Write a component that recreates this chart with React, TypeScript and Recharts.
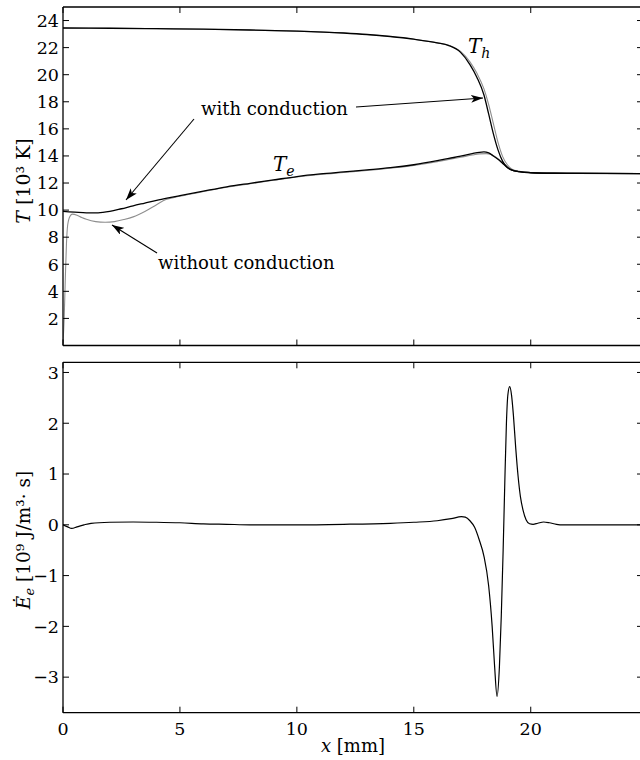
import { LineChart, Line, XAxis, YAxis } from 'recharts'

// axis ticks
const xTicks = [0, 5, 10, 15, 20]
const tTicks = [2, 4, 6, 8, 10, 12, 14, 16, 18, 20, 22, 24]
const eTicks = [-3, -2, -1, 0, 1, 2, 3]

// heavy-particle temperature T_h [10^3 K]
const thX = [0, 2, 4, 6, 8, 10, 12, 13, 14, 15, 16, 16.5, 17, 17.4, 17.7, 18, 18.2, 18.4, 18.6, 18.8, 19, 19.2, 19.5, 20, 21, 22, 24.8]
const thCond = [23.45, 23.43, 23.4, 23.36, 23.3, 23.22, 23.08, 22.97, 22.82, 22.62, 22.35, 22.15, 21.65, 20.75, 19.8, 18.5, 17.1, 15.65, 14.45, 13.6, 13.15, 12.95, 12.84, 12.76, 12.72, 12.71, 12.7]
const thNoCond = [23.45, 23.43, 23.4, 23.36, 23.3, 23.22, 23.08, 22.97, 22.82, 22.62, 22.35, 22.17, 21.72, 20.95, 20.1, 18.95, 17.8, 16.4, 15.0, 13.95, 13.35, 13.02, 12.86, 12.77, 12.72, 12.71, 12.7]

// electron temperature T_e [10^3 K], with conduction
const teCondX = [0, 0.5, 1, 1.5, 2, 2.5, 3, 3.5, 4, 4.5, 5, 6, 7, 8, 9, 10, 11, 12, 13, 14, 15, 16, 16.5, 17, 17.5, 17.8, 18, 18.2, 18.4, 18.6, 18.8, 19, 19.2, 19.5, 20, 21, 24.8]
const teCond = [9.9, 9.85, 9.8, 9.8, 9.9, 10.1, 10.32, 10.52, 10.72, 10.9, 11.07, 11.4, 11.72, 11.98, 12.23, 12.48, 12.67, 12.82, 12.97, 13.13, 13.35, 13.65, 13.82, 13.98, 14.17, 14.27, 14.3, 14.22, 14.0, 13.75, 13.45, 13.15, 12.95, 12.84, 12.77, 12.72, 12.7]

// electron temperature T_e [10^3 K], without conduction
const teNoCondX = [0, 0.05, 0.1, 0.15, 0.2, 0.3, 0.4, 0.6, 0.8, 1, 1.4, 1.8, 2.2, 2.6, 3, 3.5, 4, 4.4, 5, 6, 7, 8, 9, 10, 11, 12, 13, 14, 15, 16, 16.5, 17, 17.5, 17.8, 18.1, 18.3, 18.5, 18.7, 18.9, 19.1, 19.3, 19.6, 20, 21, 24.8]
const teNoCond = [0.15, 2, 5, 7.6, 8.9, 9.55, 9.7, 9.62, 9.45, 9.32, 9.15, 9.1, 9.15, 9.3, 9.5, 9.9, 10.4, 10.78, 11.02, 11.37, 11.69, 11.95, 12.2, 12.44, 12.63, 12.78, 12.93, 13.09, 13.3, 13.58, 13.74, 13.9, 14.07, 14.15, 14.17, 14.1, 13.92, 13.65, 13.35, 13.08, 12.93, 12.83, 12.77, 12.72, 12.7]

// electron energy source term [10^9 J/(m^3 s)]
const eX = [0, 0.2, 0.37, 0.6, 0.9, 1.2, 2, 3, 4, 5, 6, 7, 8, 10, 12, 14, 15, 16, 16.6, 17.04, 17.2, 17.4, 17.6, 17.8, 18, 18.2, 18.35, 18.45, 18.56, 18.66, 18.74, 18.82, 18.89, 18.96, 19.02, 19.1, 19.18, 19.26, 19.36, 19.46, 19.56, 19.67, 19.8, 19.95, 20.1, 20.3, 20.55, 20.8, 21.1, 21.4, 24.8]
const eDot = [0, -0.04, -0.07, -0.04, 0, 0.03, 0.05, 0.055, 0.05, 0.04, 0.02, 0.01, 0, 0, 0.01, 0.03, 0.05, 0.08, 0.12, 0.16, 0.15, 0.08, -0.05, -0.3, -0.62, -1.2, -2.0, -2.75, -3.38, -2.8, -1.8, -0.5, 0.82, 2.0, 2.55, 2.72, 2.55, 2.15, 1.5, 0.95, 0.55, 0.29, 0.1, 0.02, 0.01, 0.03, 0.055, 0.04, 0.01, 0, 0]

const zip = (xs: number[], ys: number[]) => xs.map((x, i) => ({ x, y: ys[i] }))

const FONT = '"DejaVu Serif", serif'
const X_DOMAIN: [number, number] = [0, 24.8]

type Side = 'left' | 'right' | 'top' | 'bottom'

// inward tick mark, label outside the box
function EdgeTick(props: any) {
  const { x, y, payload, side, label } = props as { x: number; y: number; payload: { value: number }; side: Side; label?: boolean }
  const len = 6
  const txt = payload.value < 0 ? `\u2212${Math.abs(payload.value)}` : `${payload.value}`
  let line = null
  let text = null
  if (side === 'left') {
    line = <line x1={x} y1={y} x2={x + len} y2={y} stroke="#000" strokeWidth={1} />
    if (label) text = <text x={x - 4} y={y} dy="0.36em" textAnchor="end" fontSize={17.5} fontFamily={FONT} fill="#000">{txt}</text>
  } else if (side === 'right') {
    line = <line x1={x - len} y1={y} x2={x} y2={y} stroke="#000" strokeWidth={1} />
  } else if (side === 'top') {
    line = <line x1={x} y1={y} x2={x} y2={y + len} stroke="#000" strokeWidth={1} />
  } else {
    line = <line x1={x} y1={y - len} x2={x} y2={y} stroke="#000" strokeWidth={1} />
    if (label) text = <text x={x} y={y + 22} textAnchor="middle" fontSize={17.5} fontFamily={FONT} fill="#000">{txt}</text>
  }
  return (
    <g>
      {line}
      {text}
    </g>
  )
}

const axisLine = { stroke: '#000', strokeWidth: 1.3 }

// box of four axes; the top and right ones only carry tick marks
function Frame({ yTicks, yDomain, bottomHeight, showX }: { yTicks: number[]; yDomain: [number, number]; bottomHeight: number; showX: boolean }) {
  return [
    <XAxis key="xb" xAxisId="b" type="number" dataKey="x" domain={X_DOMAIN} ticks={xTicks} interval={0}
      allowDataOverflow height={bottomHeight} axisLine={axisLine} tickLine={false} tickSize={0} tickMargin={0}
      tick={(p: any) => <EdgeTick {...p} side="bottom" label={showX} />} />,
    <XAxis key="xt" xAxisId="t" orientation="top" type="number" dataKey="x" domain={X_DOMAIN} ticks={xTicks} interval={0}
      allowDataOverflow height={1} axisLine={axisLine} tickLine={false} tickSize={0} tickMargin={0}
      tick={(p: any) => <EdgeTick {...p} side="top" />} />,
    <YAxis key="yl" yAxisId="l" type="number" domain={yDomain} ticks={yTicks} interval={0}
      allowDataOverflow width={63} axisLine={axisLine} tickLine={false} tickSize={0} tickMargin={0}
      tick={(p: any) => <EdgeTick {...p} side="left" label />} />,
    <YAxis key="yr" yAxisId="r" orientation="right" type="number" domain={yDomain} ticks={yTicks} interval={0}
      allowDataOverflow width={1} axisLine={axisLine} tickLine={false} tickSize={0} tickMargin={0}
      tick={(p: any) => <EdgeTick {...p} side="right" />} />,
  ]
}

const GRAY = '#8e8e8e'

function Arrow({ x1, y1, x2, y2 }: { x1: number; y1: number; x2: number; y2: number }) {
  return <line x1={x1} y1={y1} x2={x2} y2={y2} stroke="#000" strokeWidth={1.1} markerEnd="url(#head)" />
}

export default function App() {
  return (
    <div style={{ position: 'absolute', left: 0, top: 0, width: 640, height: 760, overflow: 'hidden', background: '#fff' }}>
      <div style={{ position: 'absolute', left: 0, top: 0 }}>
        <LineChart width={660} height={350} margin={{ top: 6, right: 16, bottom: 0, left: 0 }}>
          {Frame({ yTicks: tTicks, yDomain: [0, 25], bottomHeight: 4.5, showX: false })}
          <Line data={zip(thX, thNoCond)} xAxisId="b" yAxisId="l" dataKey="y" type="monotone" stroke={GRAY} strokeWidth={1.1} dot={false} isAnimationActive={false} />
          <Line data={zip(teNoCondX, teNoCond)} xAxisId="b" yAxisId="l" dataKey="y" type="monotone" stroke={GRAY} strokeWidth={1.1} dot={false} isAnimationActive={false} />
          <Line data={zip(thX, thCond)} xAxisId="b" yAxisId="l" dataKey="y" type="monotone" stroke="#000" strokeWidth={1.3} dot={false} isAnimationActive={false} />
          <Line data={zip(teCondX, teCond)} xAxisId="b" yAxisId="l" dataKey="y" type="monotone" stroke="#000" strokeWidth={1.3} dot={false} isAnimationActive={false} />
        </LineChart>
      </div>
      <div style={{ position: 'absolute', left: 0, top: 355 }}>
        <LineChart width={660} height={405} margin={{ top: 6.3, right: 16, bottom: 0, left: 0 }}>
          {Frame({ yTicks: eTicks, yDomain: [-3.7, 3.2], bottomHeight: 47.3, showX: true })}
          <Line data={zip(eX, eDot)} xAxisId="b" yAxisId="l" dataKey="y" type="monotone" stroke="#000" strokeWidth={1.2} dot={false} isAnimationActive={false} />
        </LineChart>
      </div>
      <svg width={640} height={760} style={{ position: 'absolute', left: 0, top: 0, pointerEvents: 'none' }} fontFamily={FONT}>
        <defs>
          <marker id="head" viewBox="0 0 12 8" refX={12} refY={4} markerWidth={12} markerHeight={8} markerUnits="userSpaceOnUse" orient="auto">
            <path d="M0,0 L12,4 L0,8 L3,4 z" fill="#000" />
          </marker>
        </defs>

        {/* curve annotations */}
        <text x={201} y={115} fontSize={18} fill="#000">with conduction</text>
        <Arrow x1={194} y1={119} x2={126} y2={200} />
        <Arrow x1={356} y1={107} x2={483} y2={98} />
        <text x={158} y={269} fontSize={18} fill="#000">without conduction</text>
        <Arrow x1={157} y1={253} x2={112} y2={225} />
        <text x={468} y={53} fontSize={20} fill="#000">
          <tspan fontStyle="italic">T</tspan>
          <tspan fontStyle="italic" fontSize={14} dy={5}>h</tspan>
        </text>
        <text x={273} y={171} fontSize={20} fill="#000">
          <tspan fontStyle="italic">T</tspan>
          <tspan fontStyle="italic" fontSize={14} dy={5}>e</tspan>
        </text>

        {/* axis titles */}
        <text x={30} y={181} transform="rotate(-90 30 181)" textAnchor="middle" fontSize={19} fill="#000">
          <tspan fontStyle="italic">T</tspan> [10³ K]
        </text>
        <text x={30} y={540} transform="rotate(-90 30 540)" textAnchor="middle" fontSize={18.5} fill="#000">
          <tspan fontStyle="italic">Ė</tspan>
          <tspan fontStyle="italic" fontSize={13} dy={4}>e</tspan>
          <tspan dy={-4}> [10⁹ J/m³· s]</tspan>
        </text>
        <text x={353} y={752} textAnchor="middle" fontSize={18} fill="#000">
          <tspan fontStyle="italic">x</tspan> [mm]
        </text>
      </svg>
    </div>
  )
}
